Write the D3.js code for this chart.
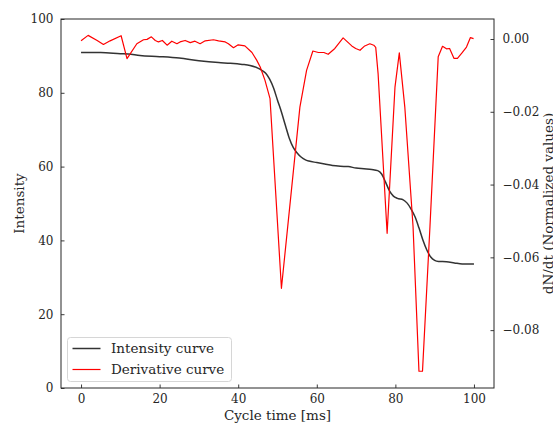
<!DOCTYPE html>
<html>
<head>
<meta charset="utf-8">
<script src="https://cdn.jsdelivr.net/npm/d3@7"></script>
<style>
  body { margin: 0; background: #fff; }
  svg text { font-family: "DejaVu Serif", serif; fill: #262626; }
</style>
</head>
<body>
<svg width="553" height="426"></svg>
<script>
// intensity curve (left axis)
var intensityX = [0, 5, 10, 12, 15, 20, 25, 30, 35, 38, 41, 43, 45, 46, 47, 48, 49, 50, 51, 52, 53, 54, 55, 56, 57, 58, 60, 62, 64, 66, 68, 70, 72, 74, 75.5, 76.5, 77.5, 78.5, 79.5, 80.5, 82, 83, 84, 85, 86, 87, 88, 89, 90, 91, 93, 95, 97, 100];
var intensityY = [90.9, 90.9, 90.6, 90.5, 90.1, 89.8, 89.4, 88.7, 88.2, 88.0, 87.7, 87.4, 86.7, 86.1, 85.3, 83.7, 81.3, 78.0, 74.8, 71.2, 67.7, 65.2, 63.7, 62.6, 61.9, 61.5, 61.1, 60.7, 60.3, 60.1, 60.0, 59.6, 59.4, 59.2, 58.9, 58.0, 55.8, 53.4, 52.0, 51.4, 51.0, 50.1, 48.5, 46.4, 43.4, 40.1, 37.4, 35.5, 34.6, 34.3, 34.2, 33.9, 33.6, 33.6];

// derivative curve (right axis)
var derivX = [0, 1.8, 4.1, 5.7, 7.4, 10.2, 11.7, 14.2, 15.9, 16.8, 17.9, 18.9, 19.7, 20.7, 21.9, 23.1, 24.4, 25.2, 26.5, 27.8, 29.0, 30.3, 31.6, 33.7, 35.0, 36.7, 37.5, 38.8, 40.0, 41.7, 43.5, 44.7, 45.6, 46.8, 48.1, 51.0, 55.7, 57.4, 59.0, 60.4, 61.8, 62.9, 64.6, 66.7, 68.9, 69.9, 71.0, 72.2, 73.5, 74.5, 75.0, 75.6, 77.9, 79.9, 81.0, 82.4, 84.5, 86.0, 86.9, 88.8, 90.9, 92.0, 93.0, 93.8, 94.9, 95.8, 96.9, 98.1, 99.1, 99.9];
var derivY = [-0.0005, 0.0010, -0.0004, -0.0015, -0.0005, 0.0009, -0.0054, -0.0013, -0.0002, -0.0001, 0.0006, -0.0004, -0.0008, -0.0004, -0.0017, -0.0006, -0.0013, -0.0008, -0.0004, -0.0010, -0.0006, -0.0013, -0.0005, -0.0002, -0.0005, -0.0008, -0.0013, -0.0024, -0.0016, -0.0019, -0.0037, -0.0058, -0.0077, -0.0113, -0.0164, -0.0685, -0.0187, -0.0086, -0.0033, -0.0037, -0.0037, -0.0042, -0.0026, 0.0003, -0.0019, -0.0026, -0.0031, -0.0019, -0.0013, -0.0017, -0.0023, -0.0095, -0.0534, -0.0132, -0.0038, -0.0187, -0.0516, -0.0913, -0.0913, -0.0516, -0.0049, -0.0020, -0.0027, -0.0026, -0.0053, -0.0053, -0.0039, -0.0022, 0.0004, 0.0001];

var xTicks = [0, 20, 40, 60, 80, 100];
var leftTicks = [0, 20, 40, 60, 80, 100];
var rightTicks = [0, -0.02, -0.04, -0.06, -0.08];

var svg = d3.select("svg"),
    margin = {top: 19, right: 59, bottom: 38, left: 61},
    width = 553 - margin.left - margin.right,
    height = 426 - margin.top - margin.bottom,
    g = svg.append("g").attr("transform", "translate(" + margin.left + "," + margin.top + ")");

var x = d3.scaleLinear().domain([-5.1, 105.1]).range([0, width]);
var yLeft = d3.scaleLinear().domain([0, 100]).range([height, 0]);
var yRight = d3.scaleLinear().domain([-0.0959, 0.0055]).range([height, 0]);

var intensity = intensityX.map(function(d, i) { return [d, intensityY[i]]; });
var deriv = derivX.map(function(d, i) { return [d, derivY[i]]; });

// axes, ticks pointing inward
var axisColor = "#262626";

function styleAxis(sel) {
    sel.select(".domain").remove();
    sel.selectAll(".tick line").attr("stroke", axisColor).attr("stroke-width", 0.9);
    sel.selectAll(".tick text")
        .attr("font-size", 12)
        .attr("font-family", "DejaVu Serif")
        .attr("fill", axisColor);
}

g.append("g")
    .attr("transform", "translate(0," + height + ")")
    .call(d3.axisBottom(x).tickValues(xTicks).tickSizeInner(-3.5).tickSizeOuter(0).tickPadding(6.5).tickFormat(d3.format("d")))
    .call(styleAxis);

g.append("g")
    .call(d3.axisLeft(yLeft).tickValues(leftTicks).tickSizeInner(-3.5).tickSizeOuter(0).tickPadding(7.5).tickFormat(d3.format("d")))
    .call(styleAxis);

g.append("g")
    .attr("transform", "translate(" + width + ",0)")
    .call(d3.axisRight(yRight).tickValues(rightTicks).tickSizeInner(-3.5).tickSizeOuter(0).tickPadding(8.5)
        .tickFormat(function(d) { return d === 0 ? "0.00" : "\u2212" + d3.format(".2f")(-d); }))
    .call(styleAxis);

// frame
g.append("rect")
    .attr("width", width)
    .attr("height", height)
    .attr("fill", "none")
    .attr("stroke", axisColor)
    .attr("stroke-width", 1);

g.append("path")
    .datum(intensity)
    .attr("fill", "none")
    .attr("stroke", "#333333")
    .attr("stroke-width", 1.5)
    .attr("d", d3.line()
        .curve(d3.curveMonotoneX)
        .x(function(d) { return x(d[0]); })
        .y(function(d) { return yLeft(d[1]); }));

g.append("path")
    .datum(deriv)
    .attr("fill", "none")
    .attr("stroke", "#ff0000")
    .attr("stroke-width", 1.2)
    .attr("stroke-linejoin", "round")
    .attr("d", d3.line()
        .x(function(d) { return x(d[0]); })
        .y(function(d) { return yRight(d[1]); }));

// axis labels
svg.append("text")
    .attr("x", margin.left + width / 2)
    .attr("y", 420)
    .attr("text-anchor", "middle")
    .attr("font-size", 13.5)
    .text("Cycle time [ms]");

svg.append("text")
    .attr("transform", "translate(24," + (margin.top + height / 2) + ") rotate(-90)")
    .attr("text-anchor", "middle")
    .attr("font-size", 13.5)
    .text("Intensity");

svg.append("text")
    .attr("transform", "translate(552.5," + (margin.top + height / 2) + ") rotate(-90)")
    .attr("text-anchor", "middle")
    .attr("font-size", 13.5)
    .text("dN/dt (Normalized values)");

// legend
var legendKeys = ["Intensity curve", "Derivative curve"];
var legendColors = ["#333333", "#ff0000"];

var legend = svg.append("g").attr("transform", "translate(67.5,337.5)");

legend.append("rect")
    .attr("width", 164)
    .attr("height", 44)
    .attr("rx", 3)
    .attr("fill", "#fff")
    .attr("fill-opacity", 0.8)
    .attr("stroke", "#d6d6d6")
    .attr("stroke-width", 1);

var items = legend.selectAll(".item")
    .data(legendKeys)
    .enter().append("g")
    .attr("class", "item")
    .attr("transform", function(d, i) { return "translate(0," + (11 + i * 21) + ")"; });

items.append("line")
    .attr("x1", 5)
    .attr("x2", 33)
    .attr("stroke", function(d, i) { return legendColors[i]; })
    .attr("stroke-width", function(d, i) { return i === 0 ? 1.5 : 1.2; });

items.append("text")
    .attr("x", 43.5)
    .attr("dy", "0.36em")
    .attr("font-size", 13.5)
    .text(function(d) { return d; });
</script>
</body>
</html>
